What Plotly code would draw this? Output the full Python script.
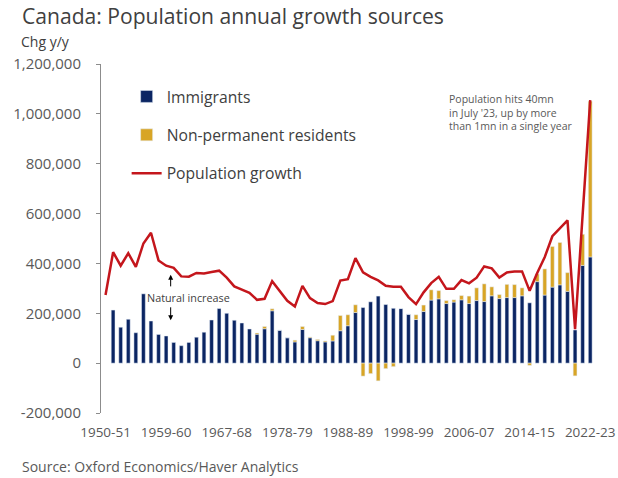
import plotly.graph_objects as go

# ---- data (thousands) ----
immigrants = [None, 213, 144, 176, 122, 278, 169, 115, 109, 83, 70, 83, 104, 124, 173, 219,
              200, 172, 161, 137, 116, 138, 210, 132, 102, 85, 135, 102, 90, 85, 89, 130,
              150, 203, 223, 246, 269, 235, 220, 219, 196, 175, 207, 253, 258, 239, 245, 254,
              239, 251, 247, 270, 259, 263, 263, 270, 242, 327, 273, 305, 314, 288, 133, 392, 426]
non_permanent = [None] * 20 + [5, 9, 8, 0, 0, 7, 12, 3, 5, 4, 23, 61,
                               44, 31, -52, -42, -71, -22, -14, 0, 0, 19, 26, 41, 33, 12, 9, 17,
                               30, 51, 71, 36, 16, 53, 52, 32, -9, 31, 105, 163, 170, 75, -51, 125, 625]
pop_growth = [273, 445, 391, 441, 386, 480, 523, 412, 391, 382, 348, 347, 362, 360, 366, 371,
              343, 308, 295, 282, 254, 258, 329, 290, 250, 227, 310, 261, 241, 237, 249, 331,
              337, 421, 364, 346, 332, 310, 306, 306, 265, 237, 284, 321, 346, 298, 298, 333,
              320, 343, 388, 380, 343, 364, 368, 368, 290, 362, 426, 509, 543, 573, 136, 600, 1055]
tick_labels = ["1950-51", "1959-60", "1967-68", "1978-79", "1988-89",
               "1998-99", "2006-07", "2014-15", "2022-23"]
tick_every = 8
y_ticks = [-200000, 0, 200000, 400000, 600000, 800000, 1000000, 1200000]

n = len(pop_growth)
x = list(range(n))
scale = 1000
imm = [None if v is None else v * scale for v in immigrants]
npr = [None if v is None else v * scale for v in non_permanent]
pg = [v * scale for v in pop_growth]

NAVY = "#0B2563"
GOLD = "#D8A526"
RED = "#C4161C"
GRAY = "#595959"
AXIS = "#8C8C8C"
FONT = "Open Sans"

fig = go.Figure()
fig.add_trace(go.Bar(x=x, y=imm, name="Immigrants", marker_color=NAVY, width=0.5,
                     legendgroup="a"))
fig.add_trace(go.Bar(x=x, y=npr, name="Non-permanent residents", marker_color=GOLD, width=0.5,
                     legendgroup="b"))
fig.add_trace(go.Scatter(x=x, y=pg, name="Population growth", mode="lines",
                         line=dict(color=RED, width=2.5), legendgroup="c"))

xr = [-0.6, n - 0.5]
fig.update_layout(
    width=618, height=478,
    margin=dict(l=101, r=24, t=64, b=65, autoexpand=False),
    paper_bgcolor="white", plot_bgcolor="white",
    barmode="relative",
    font=dict(family=FONT, color=GRAY, size=14),
    showlegend=True,
    legend=dict(x=0.052, y=0.955, xanchor="left", yanchor="top",
                traceorder="grouped", tracegroupgap=15,
                font=dict(size=15.7, color="#404040"), bgcolor="rgba(0,0,0,0)"),
    xaxis=dict(range=xr, tickmode="array",
               tickvals=list(range(0, n, tick_every)), ticktext=tick_labels,
               ticks="outside", ticklen=7, tickcolor="rgba(0,0,0,0)",
               showline=False, showgrid=False, zeroline=False, automargin=False,
               tickfont=dict(size=13.5, color=GRAY)),
    xaxis2=dict(range=xr, overlaying="x", anchor="free", position=1/7, side="bottom",
                showline=True, linecolor=AXIS, linewidth=1,
                tickmode="array", tickvals=[i - 0.5 for i in range(n + 1)],
                ticks="outside", ticklen=5, tickcolor=AXIS, automargin=False,
                showticklabels=False, showgrid=False, zeroline=False),
    yaxis=dict(range=[-200000, 1200000], tickmode="array",
               tickvals=y_ticks, ticktext=[f"{v:,}" for v in y_ticks],
               showline=True, linecolor=AXIS, linewidth=1,
               ticks="outside", ticklen=4, tickcolor=AXIS, ticklabelstandoff=12,
               showgrid=False, zeroline=False, automargin=False,
               tickfont=dict(size=15, color=GRAY)),
    title=dict(text="Canada: Population annual growth sources", x=22/618, xanchor="left",
               y=1 - 17/478, yanchor="middle", font=dict(size=21.1, color="#404040")),
)

fig.add_annotation(text="Chg y/y", xref="paper", yref="paper", x=-82/493, y=1 + 22/349,
                   xanchor="left", yanchor="middle", showarrow=False,
                   font=dict(size=14, color="#404040"))
fig.add_annotation(text="Source: Oxford Economics/Haver Analytics", xref="paper", yref="paper",
                   x=-81/493, y=-53/349, xanchor="left", yanchor="middle", showarrow=False,
                   font=dict(size=14, color=GRAY))
fig.add_annotation(text="Population hits 40mn<br>in July '23, up by more<br>than 1mn in a single year",
                   x=45.1, y=1095000, xanchor="left", yanchor="top", align="left",
                   showarrow=False, font=dict(size=10.5, color=GRAY))
fig.add_annotation(text="Natural increase", x=10.9, y=263000, showarrow=False,
                   font=dict(size=10.8, color="#404040"))
fig.add_annotation(x=8.6, y=355000, ax=8.6, ay=302000, axref="x", ayref="y", text="",
                   showarrow=True, arrowhead=2, arrowsize=1, arrowwidth=1, arrowcolor="black")
fig.add_annotation(x=8.6, y=172000, ax=8.6, ay=230000, axref="x", ayref="y", text="",
                   showarrow=True, arrowhead=2, arrowsize=1, arrowwidth=1, arrowcolor="black")

fig.write_html("out.html")
